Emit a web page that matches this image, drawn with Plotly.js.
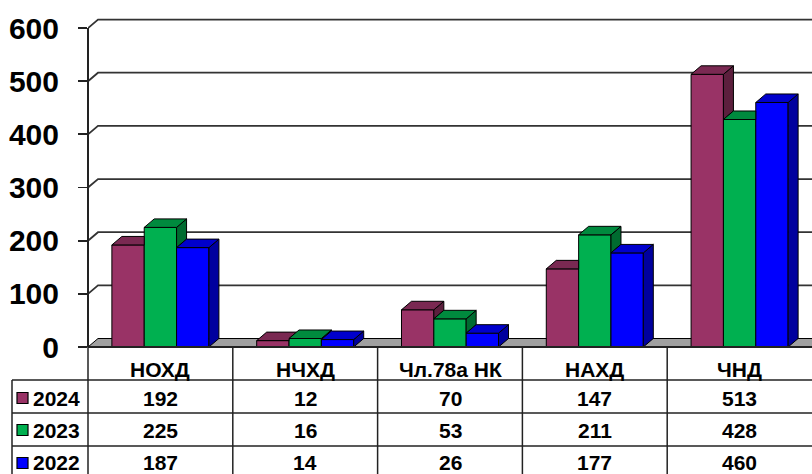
<!DOCTYPE html>
<html><head><meta charset="utf-8">
<script src="https://cdn.plot.ly/plotly-3.0.1.min.js"></script>
<style>html,body{margin:0;padding:0;background:#fff}#chart{width:812px;height:474px}</style>
</head><body><div id="chart"></div>
<script>
const categories = ['НОХД', 'НЧХД', 'Чл.78а НК', 'НАХД', 'ЧНД'];
const seriesNames = ['2024', '2023', '2022'];
const values2024 = [192, 12, 70, 147, 513];
const values2023 = [225, 16, 53, 211, 428];
const values2022 = [187, 14, 26, 177, 460];
const yTickValues = [0, 100, 200, 300, 400, 500, 600];

const seriesValues = [values2024, values2023, values2022];
const frontCol = ['#993366', '#00B050', '#0000FF'];
const topCol = ['#7A2952', '#008A3E', '#0000CC'];
const sideCol = ['#5C1F3D', '#006B30', '#00009E'];

const W = 812, H = 474, ML = 88, MR = 0, MT = 10, MB = 127;
const plotW = W - ML - MR, plotH = H - MT - MB;
const yMax = 634;
const px2x = p => (p - ML) / plotW;
const px2y = p => (H - MB - p) / plotH;

const nCat = categories.length;
const groupW = 0.67, barW = groupW / 3;
const dx = 10 / plotW * nCat;   // depth offset in x units
const dy = 16;                  // depth offset in y units
const FONT = 'Liberation Sans, Arial, sans-serif';

const traces = [];
seriesValues.forEach((vals, i) => {
  const offset = -groupW / 2 + i * barW;
  traces.push({
    type: 'bar', x: vals.map((_, j) => j), y: vals, width: barW, offset: offset,
    marker: {color: frontCol[i], line: {color: '#000', width: 1}},
    name: seriesNames[i], showlegend: false, hoverinfo: 'y'
  });
  const sx = [], sy = [], tx = [], ty = [];
  vals.forEach((v, j) => {
    const x0 = j + offset, x1 = x0 + barW;
    const h = i < seriesValues.length - 1 ? seriesValues[i + 1][j] : 0;
    let topPoly;
    if (h <= v) {
      topPoly = [[x0, v], [x1, v], [x1 + dx, v + dy], [x0 + dx, v + dy]];
    } else {
      const hc = Math.min(h, v + dy);
      topPoly = [[x0, v], [x1, v], [x1, hc], [x1 + (v + dy - hc) / dy * dx, v + dy], [x0 + dx, v + dy]];
    }
    topPoly.push(topPoly[0]);
    topPoly.forEach(p => { tx.push(p[0]); ty.push(p[1]); });
    tx.push(null); ty.push(null);
    if (h < v) {
      const b = Math.max(h, 0);
      const sp = [[x1, b], [x1 + dx, b + dy], [x1 + dx, v + dy], [x1, v], [x1, b]];
      sp.forEach(p => { sx.push(p[0]); sy.push(p[1]); });
      sx.push(null); sy.push(null);
    }
  });
  traces.push({type: 'scatter', mode: 'lines', x: sx, y: sy, fill: 'toself', fillcolor: sideCol[i],
    line: {color: '#000', width: 1}, showlegend: false, hoverinfo: 'skip'});
  traces.push({type: 'scatter', mode: 'lines', x: tx, y: ty, fill: 'toself', fillcolor: topCol[i],
    line: {color: '#000', width: 1}, showlegend: false, hoverinfo: 'skip'});
});

const shapes = [];
shapes.push({type: 'path', xref: 'x', yref: 'y', layer: 'below',
  path: `M -0.5 0 L ${nCat - 0.5} 0 L ${nCat - 0.5 + dx} ${dy} L ${-0.5 + dx} ${dy} Z`,
  fillcolor: '#A0A0A0', line: {color: '#000', width: 1}});
yTickValues.slice(1).forEach(v => {
  shapes.push({type: 'path', xref: 'x', yref: 'y', layer: 'below',
    path: `M -0.5 ${v} L ${-0.5 + dx} ${v + dy} L ${nCat - 0.5 + 0.2} ${v + dy}`,
    line: {color: '#333', width: 1.8}});
});
shapes.push({type: 'line', xref: 'paper', yref: 'y', x0: 0, x1: 0, y0: 0, y1: yTickValues[yTickValues.length - 1],
  line: {color: '#222', width: 2}});
shapes.push({type: 'line', xref: 'paper', yref: 'paper', x0: 0, x1: 1, y0: 0, y1: 0, line: {color: '#222', width: 2}});
const rowTops = [380, 413, 446];
rowTops.forEach(p => shapes.push({type: 'line', xref: 'paper', yref: 'paper', x0: px2x(12), x1: 1, y0: px2y(p), y1: px2y(p),
  line: {color: '#222', width: 1.5}}));
shapes.push({type: 'line', xref: 'paper', yref: 'paper', x0: px2x(12), x1: px2x(12), y0: px2y(380), y1: px2y(480), line: {color: '#222', width: 1.5}});
shapes.push({type: 'line', xref: 'paper', yref: 'paper', x0: 0, x1: 0, y0: 0, y1: px2y(480), line: {color: '#222', width: 1.5}});
for (let j = 0; j < nCat - 1; j++) {
  shapes.push({type: 'line', xref: 'x', yref: 'paper', x0: j + 0.5, x1: j + 0.5, y0: 0, y1: px2y(480), line: {color: '#222', width: 1.5}});
}
const rowCenters = [398, 430, 463];
seriesNames.forEach((_, i) => {
  shapes.push({type: 'rect', xref: 'paper', yref: 'paper', x0: px2x(17), x1: px2x(28),
    y0: px2y(rowCenters[i] + 5.5), y1: px2y(rowCenters[i] - 5.5), fillcolor: frontCol[i], line: {color: '#000', width: 1.2}});
});

const annotations = [];
const txtFont = {family: FONT, size: 21, color: '#000', weight: 'bold'};
categories.forEach((c, j) => annotations.push({xref: 'x', yref: 'paper', x: j, y: px2y(369), text: c,
  showarrow: false, font: txtFont, xanchor: 'center', yanchor: 'middle'}));
seriesValues.forEach((vals, i) => {
  annotations.push({xref: 'paper', yref: 'paper', x: px2x(31), y: px2y(rowCenters[i]), text: seriesNames[i],
    showarrow: false, font: txtFont, xanchor: 'left', yanchor: 'middle'});
  vals.forEach((v, j) => annotations.push({xref: 'x', yref: 'paper', x: j, y: px2y(rowCenters[i]), text: String(v),
    showarrow: false, font: txtFont, xanchor: 'center', yanchor: 'middle'}));
});

const layout = {
  width: W, height: H, margin: {l: ML, r: MR, t: MT, b: MB, pad: 0},
  paper_bgcolor: '#fff', plot_bgcolor: '#fff',
  barmode: 'overlay', showlegend: false,
  xaxis: {range: [-0.5, nCat - 0.5], showticklabels: false, showgrid: false, zeroline: false, showline: false, ticks: '', fixedrange: true},
  yaxis: {range: [0, yMax], tickvals: yTickValues, ticktext: yTickValues.map(String), showgrid: false, zeroline: false, showline: false,
    ticks: 'outside', ticklen: 9, tickwidth: 1.8, tickcolor: '#222', ticklabelstandoff: 13,
    tickfont: {family: FONT, size: 30, color: '#000', weight: 'bold'}, fixedrange: true},
  shapes: shapes, annotations: annotations
};
Plotly.newPlot('chart', traces, layout, {staticPlot: true, displayModeBar: false});
</script>
</body></html>
